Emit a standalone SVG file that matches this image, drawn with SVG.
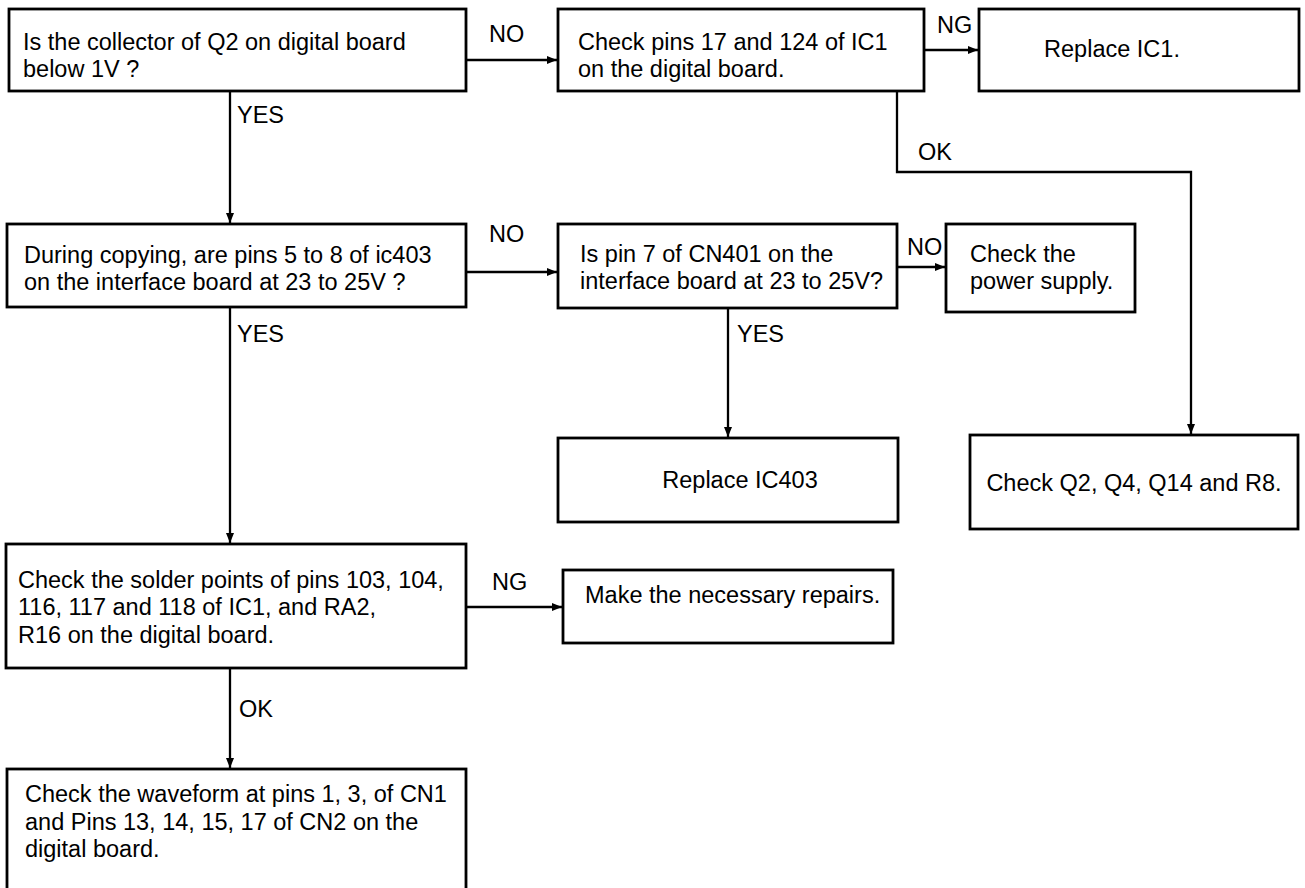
<svg xmlns="http://www.w3.org/2000/svg" width="1305" height="888" viewBox="0 0 1305 888">
<style>
.box{fill:#fff;stroke:#000;stroke-width:2.8}
.t{font-family:"Liberation Sans",Arial,Helvetica,sans-serif;font-size:23.5px;fill:#000}
.c{text-anchor:middle}
.ln{fill:none;stroke:#000;stroke-width:2.3}
</style>
<defs>
<marker id="ah" markerUnits="userSpaceOnUse" markerWidth="10" markerHeight="10" viewBox="0 0 10 10" refX="10" refY="5" orient="auto">
<path d="M0,1 L10,5 L0,9 Z" fill="#000"/>
</marker>
</defs>
<rect width="1305" height="888" fill="#fff"/>
<g id="connectors">
<path class="ln" d="M466,60 H557" marker-end="url(#ah)"/>
<path class="ln" d="M924,50 H978" marker-end="url(#ah)"/>
<path class="ln" d="M897,91 V172 H1191 V434" marker-end="url(#ah)"/>
<path class="ln" d="M230,91 V223" marker-end="url(#ah)"/>
<path class="ln" d="M466,272 H557" marker-end="url(#ah)"/>
<path class="ln" d="M897,267 H945" marker-end="url(#ah)"/>
<path class="ln" d="M728,308 V437" marker-end="url(#ah)"/>
<path class="ln" d="M230,307 V543" marker-end="url(#ah)"/>
<path class="ln" d="M466,607 H562" marker-end="url(#ah)"/>
<path class="ln" d="M230,668 V768" marker-end="url(#ah)"/>
<text class="t" x="489" y="42">NO</text>
<text class="t" x="937" y="33">NG</text>
<text class="t" x="918" y="160">OK</text>
<text class="t" x="237" y="123">YES</text>
<text class="t" x="489" y="242">NO</text>
<text class="t" x="907" y="255">NO</text>
<text class="t" x="737" y="342">YES</text>
<text class="t" x="237" y="342">YES</text>
<text class="t" x="492" y="590">NG</text>
<text class="t" x="239" y="717">OK</text>
</g>
<g id="n1">
<rect class="box" x="9" y="9" width="457" height="82"/>
<text class="t" x="23" y="50">Is the collector of Q2 on digital board</text>
<text class="t" x="23" y="77">below 1V ?</text>
</g>
<g id="n2">
<rect class="box" x="558" y="9" width="366" height="82"/>
<text class="t" x="578" y="50">Check pins 17 and 124 of IC1</text>
<text class="t" x="578" y="77">on the digital board.</text>
</g>
<g id="n3">
<rect class="box" x="979" y="9" width="320" height="82"/>
<text class="t c" x="1112" y="57">Replace IC1.</text>
</g>
<g id="n4">
<rect class="box" x="7" y="224" width="459" height="83"/>
<text class="t" x="24" y="263">During copying, are pins 5 to 8 of ic403</text>
<text class="t" x="24" y="290">on the interface board at 23 to 25V ?</text>
</g>
<g id="n5">
<rect class="box" x="558" y="224" width="339" height="84"/>
<text class="t" x="580" y="262">Is pin 7 of CN401 on the</text>
<text class="t" x="580" y="289">interface board at 23 to 25V?</text>
</g>
<g id="n6">
<rect class="box" x="946" y="224" width="189" height="88"/>
<text class="t" x="970" y="262">Check the</text>
<text class="t" x="970" y="289">power supply.</text>
</g>
<g id="n7">
<rect class="box" x="558" y="438" width="340" height="84"/>
<text class="t c" x="740" y="488">Replace IC403</text>
</g>
<g id="n8">
<rect class="box" x="970" y="435" width="328" height="94"/>
<text class="t c" x="1134" y="491">Check Q2, Q4, Q14 and R8.</text>
</g>
<g id="n9">
<rect class="box" x="6" y="544" width="460" height="124"/>
<text class="t" x="18" y="588">Check the solder points of pins 103, 104,</text>
<text class="t" x="18" y="615">116, 117 and 118 of IC1, and RA2,</text>
<text class="t" x="18" y="643">R16 on the digital board.</text>
</g>
<g id="n10">
<rect class="box" x="563" y="570" width="330" height="73"/>
<text class="t" x="585" y="603">Make the necessary repairs.</text>
</g>
<g id="n11">
<rect class="box" x="7" y="769" width="459" height="125"/>
<text class="t" x="25" y="802">Check the waveform at pins 1, 3, of CN1</text>
<text class="t" x="25" y="830">and Pins 13, 14, 15, 17 of CN2 on the</text>
<text class="t" x="25" y="857">digital board.</text>
</g>
</svg>
